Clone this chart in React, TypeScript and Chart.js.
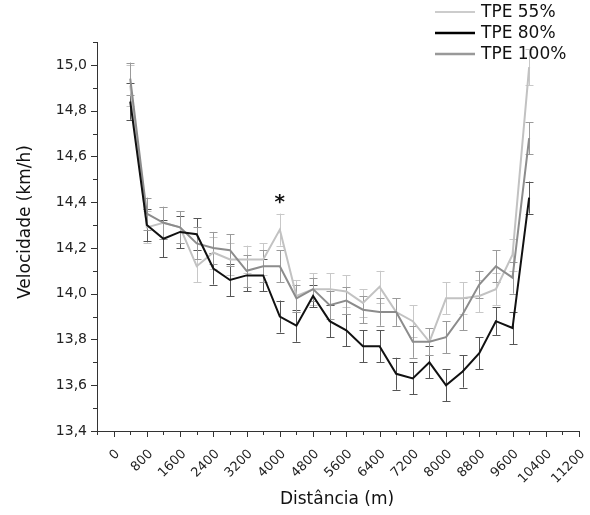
import React, { useEffect, useRef } from "react";
import { Chart, registerables } from "chart.js";

Chart.register(...registerables);

// ---- data ----
const distances = [400, 800, 1200, 1600, 2000, 2400, 2800, 3200, 3600, 4000, 4400, 4800, 5200, 5600, 6000, 6400, 6800, 7200, 7600, 8000, 8400, 8800, 9200, 9600, 10000];
const tpe55 = [14.91, 14.29, 14.31, 14.29, 14.12, 14.18, 14.15, 14.15, 14.15, 14.28, 13.99, 14.02, 14.02, 14.01, 13.96, 14.03, 13.92, 13.88, 13.79, 13.98, 13.98, 13.99, 14.02, 14.17, 14.99];
const tpe80 = [14.84, 14.30, 14.24, 14.27, 14.26, 14.11, 14.06, 14.08, 14.08, 13.90, 13.86, 13.99, 13.88, 13.84, 13.77, 13.77, 13.65, 13.63, 13.70, 13.60, 13.66, 13.74, 13.88, 13.85, 14.42];
const tpe100 = [14.94, 14.35, 14.31, 14.29, 14.22, 14.20, 14.19, 14.10, 14.12, 14.12, 13.98, 14.02, 13.95, 13.97, 13.93, 13.92, 13.92, 13.79, 13.79, 13.81, 13.91, 14.04, 14.12, 14.07, 14.68];
const err55 = [0.09, 0.07, 0.07, 0.07, 0.07, 0.07, 0.07, 0.06, 0.07, 0.07, 0.07, 0.07, 0.07, 0.07, 0.06, 0.07, 0.06, 0.07, 0.06, 0.07, 0.07, 0.07, 0.07, 0.07, 0.08];
const err80 = [0.08, 0.07, 0.08, 0.07, 0.07, 0.07, 0.07, 0.07, 0.07, 0.07, 0.07, 0.05, 0.07, 0.07, 0.07, 0.07, 0.07, 0.07, 0.07, 0.07, 0.07, 0.07, 0.06, 0.07, 0.07];
const err100 = [0.07, 0.07, 0.07, 0.07, 0.07, 0.07, 0.07, 0.07, 0.07, 0.07, 0.06, 0.05, 0.06, 0.06, 0.06, 0.06, 0.06, 0.07, 0.06, 0.07, 0.07, 0.06, 0.07, 0.07, 0.07];
const seriesNames = ["TPE 55%", "TPE 80%", "TPE 100%"];
const xTicks = [0, 800, 1600, 2400, 3200, 4000, 4800, 5600, 6400, 7200, 8000, 8800, 9600, 10400, 11200];
const yTicks = [13.4, 13.6, 13.8, 14.0, 14.2, 14.4, 14.6, 14.8, 15.0];
const xTitle = "Distância (m)";
const yTitle = "Velocidade (km/h)";
const markText = "*";
const markX = 4000;
const markY = 14.41;

// ---- styles ----
const FONT = "'DejaVu Sans', sans-serif";
const lineColors = ["#c2c2c2", "#111111", "#8c8c8c"];
const errColors = ["#c8c8c8", "#555555", "#9a9a9a"];
const legendColors = ["#cccccc", "#000000", "#999999"];
const errs = [err55, err80, err100];

const overlay = {
  id: "overlay",
  beforeDatasetsDraw(chart: any) {
    const ctx = chart.ctx;
    const xs = chart.scales.x;
    const ys = chart.scales.y;
    ctx.save();
    chart.data.datasets.forEach((ds: any, i: number) => {
      ctx.strokeStyle = errColors[i];
      ctx.lineWidth = 1;
      ds.data.forEach((p: any, j: number) => {
        const e = errs[i][j];
        const px = Math.round(xs.getPixelForValue(p.x)) + 0.5;
        const t = ys.getPixelForValue(p.y + e);
        const b = ys.getPixelForValue(p.y - e);
        ctx.beginPath();
        ctx.moveTo(px, t);
        ctx.lineTo(px, b);
        ctx.moveTo(px - 4, Math.round(t) + 0.5);
        ctx.lineTo(px + 4, Math.round(t) + 0.5);
        ctx.moveTo(px - 4, Math.round(b) + 0.5);
        ctx.lineTo(px + 4, Math.round(b) + 0.5);
        ctx.stroke();
      });
    });
    ctx.restore();
  },
  afterDraw(chart: any) {
    const ctx = chart.ctx;
    const xs = chart.scales.x;
    const ys = chart.scales.y;
    const area = chart.chartArea;
    ctx.save();
    // tick marks
    ctx.strokeStyle = "#333";
    ctx.lineWidth = 1;
    ctx.beginPath();
    const xStep = xTicks[1] - xTicks[0];
    for (let v = xs.min; v <= xs.max + 1e-6; v += xStep / 2) {
      const px = Math.round(xs.getPixelForValue(v)) + 0.5;
      const major = xTicks.includes(Math.round(v));
      ctx.moveTo(px, area.bottom);
      ctx.lineTo(px, area.bottom + (major ? 6 : 4));
    }
    const yStep = yTicks[1] - yTicks[0];
    for (let k = 0; ; k++) {
      const v = yTicks[0] + (k * yStep) / 2;
      if (v > ys.max + 1e-6) break;
      const py = Math.round(ys.getPixelForValue(v)) + 0.5;
      const major = k % 2 === 0;
      ctx.moveTo(area.left, py);
      ctx.lineTo(area.left - (major ? 6 : 4), py);
    }
    ctx.stroke();

    // x tick labels (rotated 45°)
    ctx.fillStyle = "#222";
    ctx.font = `13px ${FONT}`;
    ctx.textAlign = "right";
    ctx.textBaseline = "middle";
    xTicks.forEach((v) => {
      const px = xs.getPixelForValue(v);
      ctx.save();
      ctx.translate(px + 4, area.bottom + 21);
      ctx.rotate(-Math.PI / 4);
      ctx.fillText(String(v), 0, 0);
      ctx.restore();
    });

    // axis titles
    ctx.fillStyle = "#111";
    ctx.font = `17px ${FONT}`;
    ctx.textAlign = "center";
    ctx.textBaseline = "middle";
    ctx.fillText(xTitle, (area.left + area.right) / 2 - 1, 500);
    ctx.save();
    ctx.translate(26, 222);
    ctx.rotate(-Math.PI / 2);
    ctx.fillText(yTitle, 0, 0);
    ctx.restore();

    // asterisk
    ctx.font = `bold 20px ${FONT}`;
    ctx.fillText(markText, xs.getPixelForValue(markX), ys.getPixelForValue(markY) + 3);

    // legend
    ctx.font = `17px ${FONT}`;
    ctx.textAlign = "left";
    seriesNames.forEach((name, i) => {
      const y = 12 + i * 21;
      ctx.strokeStyle = legendColors[i];
      ctx.lineWidth = i === 0 ? 2 : 2.5;
      ctx.beginPath();
      ctx.moveTo(435, y);
      ctx.lineTo(475, y);
      ctx.stroke();
      ctx.fillStyle = "#111";
      ctx.fillText(name, 481, y + 1);
    });
    ctx.restore();
  },
};

export default function App() {
  const ref = useRef<HTMLCanvasElement | null>(null);
  useEffect(() => {
    if (!ref.current) return;
    const series = [tpe55, tpe80, tpe100];
    const chart = new Chart(ref.current, {
      type: "line",
      data: {
        datasets: series.map((vals, i) => ({
          label: seriesNames[i],
          data: vals.map((v, j) => ({ x: distances[j], y: v })),
          borderColor: lineColors[i],
          borderWidth: 2,
          pointRadius: 0,
          tension: 0,
          fill: false,
          order: i === 1 ? 0 : i === 2 ? 1 : 2,
        })),
      },
      options: {
        animation: false,
        responsive: false,
        devicePixelRatio: 1,
        layout: { padding: { top: 42, right: 11, left: 0, bottom: 0 } },
        plugins: { legend: { display: false }, tooltip: { enabled: false } },
        scales: {
          x: {
            type: "linear",
            min: -400,
            max: 11200,
            afterBuildTicks: (s: any) => {
              s.ticks = xTicks.map((v) => ({ value: v }));
            },
            afterFit: (s: any) => {
              s.height = 84;
              s.paddingLeft = 0;
              s.paddingRight = 0;
            },
            ticks: { display: false },
            grid: { display: false, drawTicks: false },
            border: { display: true, color: "#333", width: 1 },
          },
          y: {
            type: "linear",
            min: 13.4,
            max: 15.1,
            afterBuildTicks: (s: any) => {
              s.ticks = yTicks.map((v) => ({ value: v }));
            },
            afterFit: (s: any) => {
              s.width = 97;
              s.paddingTop = 0;
              s.paddingBottom = 0;
            },
            ticks: {
              padding: 4,
              color: "#222",
              font: { family: FONT, size: 14 },
              callback: (v: any) => Number(v).toFixed(1).replace(".", ","),
            },
            grid: { display: false, drawTicks: true, tickLength: 6 },
            border: { display: true, color: "#333", width: 1 },
          },
        },
      },
      plugins: [overlay],
    });
    return () => chart.destroy();
  }, []);
  return (
    <div style={{ position: "absolute", left: 0, top: 0, width: 590, height: 515, background: "#fff" }}>
      <canvas ref={ref} width={590} height={515} />
    </div>
  );
}
